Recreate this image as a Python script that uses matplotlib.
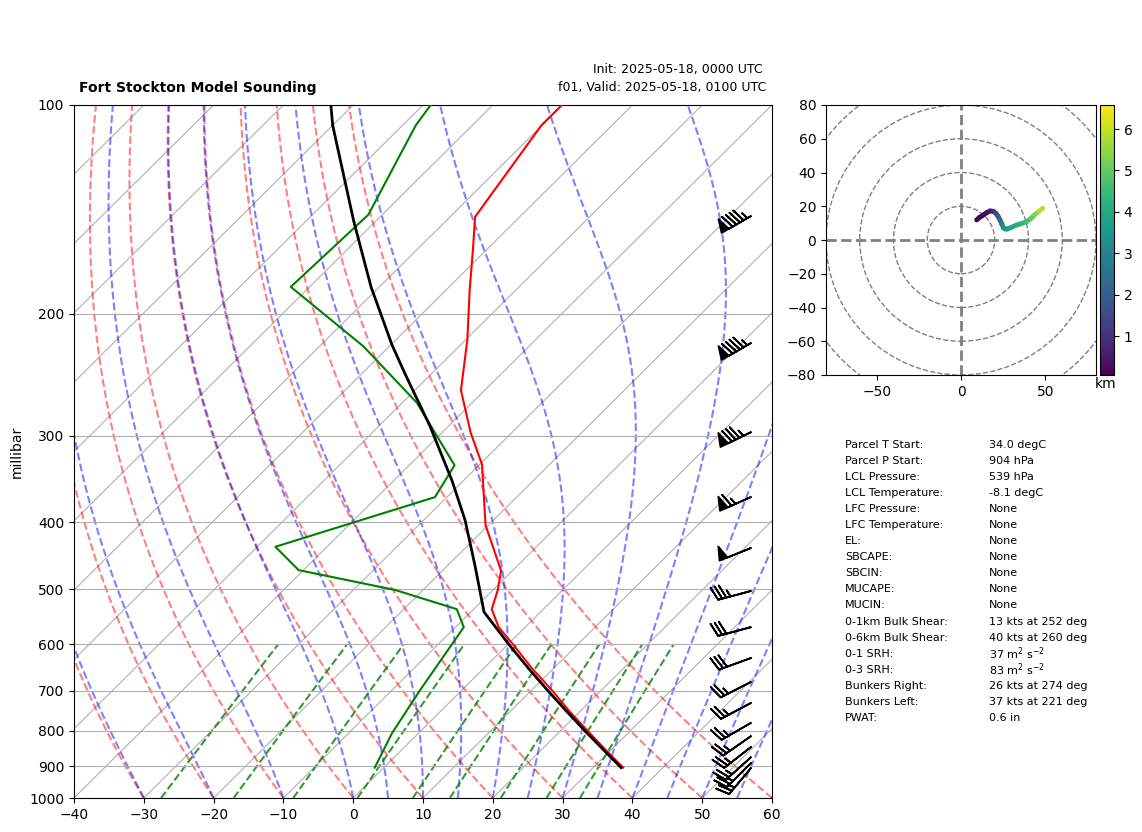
#! /usr/bin/env python3

import numpy as np
import matplotlib
matplotlib.use("Agg")
import matplotlib.pyplot as plt
import matplotlib.transforms as transforms
from matplotlib.collections import LineCollection

# sounding, values
temp_p = [904, 850, 800, 750, 698, 650, 600, 567, 534, 501, 470, 404, 330, 297, 258, 218, 185, 162, 145, 107, 100]
temp_c = [34.3, 29.0, 23.9, 18.5, 12.8, 6.9, 0.7, -3.8, -7.4, -9.3, -11.6, -20.4, -29.7, -35.9, -43.4, -49.8, -56.6, -61.9, -66.4, -70.1, -70.1]
dewp_p = [904, 806, 698, 567, 534, 501, 469, 434, 368, 331, 269, 223, 183, 144, 107, 100]
dewp_c = [-1.3, -3.8, -6.0, -8.8, -12.4, -24.0, -40.7, -47.4, -31.7, -33.5, -47.9, -63.7, -82.7, -82.0, -88.1, -88.9]
parcel_p = [904, 850, 800, 750, 700, 650, 600, 539, 461, 397, 348, 290, 245, 222, 183, 147, 124, 107, 100]
parcel_c = [34.0, 28.7, 23.5, 18.1, 12.4, 6.4, 0.1, -8.1, -16.2, -24.1, -31.7, -42.8, -53.6, -59.8, -71.2, -83.2, -92.2, -100.0, -103.2]

# wind barbs (knots)
barb_p = [144.6, 220.5, 296.5, 367.8, 435.7, 502.6, 566.8, 628, 680, 729, 779, 814, 844, 873, 890, 905]
barb_spd = [95, 95, 85, 65, 50, 35, 30, 30, 25, 25, 25, 25, 25, 25, 25, 25]
barb_ang = [30, 30, 26, 24, 22, 15, 15, 20, 27, 28, 30, 35, 38, 42, 45, 50]

# hodograph
hodo_u = [9.3, 11.0, 13.2, 15.2, 17.2, 19.2, 20.7, 22.0, 23.1, 24.2, 25.1, 26.0, 27.4, 30.0, 33.0, 36.0, 38.9, 41.5, 43.9, 46.2, 48.4]
hodo_v = [11.9, 13.4, 14.8, 16.2, 17.2, 17.0, 15.8, 14.0, 11.9, 9.5, 7.3, 6.6, 6.5, 7.6, 8.9, 9.8, 10.9, 12.8, 15.2, 17.0, 18.8]
hodo_z = [0.06, 0.12, 0.2, 0.3, 0.5, 0.9, 1.4, 1.9, 2.4, 2.9, 3.3, 3.5, 3.7, 3.95, 4.2, 4.4, 4.7, 5.0, 5.4, 5.9, 6.58]

# thermodynamic background lines (starting values at 1000 hPa)
dry_t0 = list(range(-40, 61, 10))
moist_t0 = [-40, -30, -20, -10, 0, 5, 10, 15, 20, 25, 30, 35, 40, 45, 50, 55, 60]
mix_w = [0.0004, 0.001, 0.002, 0.004, 0.007, 0.01, 0.016, 0.024, 0.032]

p_ticks = [100, 200, 300, 400, 500, 600, 700, 800, 900, 1000]

stat_names = ["Parcel T Start:", "Parcel P Start:", "LCL Pressure:", "LCL Temperature:",
              "LFC Pressure:", "LFC Temperature:", "EL:", "SBCAPE:", "SBCIN:", "MUCAPE:",
              "MUCIN:", "0-1km Bulk Shear:", "0-6km Bulk Shear:", "0-1 SRH:", "0-3 SRH:",
              "Bunkers Right:", "Bunkers Left:", "PWAT:"]
stat_vals = ["34.0 degC", "904 hPa", "539 hPa", "-8.1 degC", "None", "None", "None", "None",
             "None", "None", "None", "13 kts at 252 deg", "40 kts at 260 deg",
             r"37 m$^2$ s$^{-2}$", r"83 m$^2$ s$^{-2}$", "26 kts at 274 deg",
             "37 kts at 221 deg", "0.6 in"]


def sat_vp(t_c):
    return 6.112 * np.exp(17.67 * t_c / (t_c + 243.5))


def moist_line(t0, p):
    # integrate the saturated lapse rate upward from 1000 hPa
    t = t0 + 273.15
    out = [t]
    for i in range(1, len(p)):
        dlnp = np.log(p[i] / p[i - 1])
        es = sat_vp(t - 273.15)
        rs = 0.622 * es / (p[i - 1] - es)
        lv = 2.501e6
        dt = (287.04 * t + lv * rs) / (1005.7 + lv ** 2 * rs * 0.622 / (287.04 * t ** 2))
        t = t + dt * dlnp
        out.append(t)
    return np.array(out) - 273.15


W, H = 1142, 832
fig = plt.figure(figsize=(W / 100, H / 100), dpi=100)


def rect(x0, y0, x1, y1):
    return [x0 / W, 1 - y1 / H, (x1 - x0) / W, (y1 - y0) / H]


ax = fig.add_axes(rect(74, 105, 772, 798))
ax.set_yscale("log")
ax.set_xlim(-40, 60)
ax.set_ylim(1000, 100)
ax.set_yticks(p_ticks)
ax.set_yticklabels([str(p) for p in p_ticks])
ax.minorticks_off()
ax.set_xticks(range(-40, 61, 10))
ax.yaxis.grid(True)
ax.set_ylabel("millibar")
ax.yaxis.set_label_coords(-0.072, 0.5)

# skew applied in axes coordinates
skew = ax.transScale + ax.transLimits + transforms.Affine2D().skew_deg(45, 0) + ax.transAxes

p_line = np.geomspace(1000, 100, 300)

for t in range(-150, 61, 10):
    ax.plot([t, t], [1000, 100], color="#b0b0b0", lw=0.8, transform=skew, zorder=1)

for t0 in dry_t0:
    t = (t0 + 273.15) * (p_line / 1000) ** 0.2857 - 273.15
    ax.plot(t, p_line, color="r", ls="--", lw=1.5, alpha=0.5, transform=skew, zorder=1.5)

for t0 in moist_t0:
    ax.plot(moist_line(t0, p_line), p_line, color="b", ls="--", lw=1.5, alpha=0.5, transform=skew, zorder=1.5)

p_mix = np.linspace(1000, 600, 50)
for w in mix_w:
    e = np.log(p_mix * w / (0.622 + w) / 6.112)
    t = 243.5 * e / (17.67 - e)
    ax.plot(t, p_mix, color="g", ls="--", lw=1.5, alpha=0.8, transform=skew, zorder=1.5)

ax.plot(temp_c, temp_p, color="r", lw=1.5, transform=skew, zorder=3)
ax.plot(dewp_c, dewp_p, color="g", lw=1.5, transform=skew, zorder=3)
ax.plot(parcel_c, parcel_p, color="k", lw=2.0, transform=skew, zorder=3)

barb_u = np.array(barb_spd) * np.cos(np.radians(barb_ang))
barb_v = np.array(barb_spd) * np.sin(np.radians(barb_ang))
barb_tr = transforms.blended_transform_factory(ax.transAxes, ax.transData)
ax.barbs(np.full(len(barb_p), 0.97), barb_p, barb_u, barb_v, transform=barb_tr, length=7, linewidth=1.3, zorder=4)

fig.text(79 / W, 1 - 88 / H, "Fort Stockton Model Sounding", fontweight="bold", fontsize=10, va="center")
fig.text(763 / W, 1 - 70 / H, "Init: 2025-05-18, 0000 UTC", fontsize=9, ha="right", va="center")
fig.text(766 / W, 1 - 88 / H, "f01, Valid: 2025-05-18, 0100 UTC", fontsize=9, ha="right", va="center")

hax = fig.add_axes(rect(826, 105, 1096, 375))
hax.set_xlim(-80, 80)
hax.set_ylim(-80, 80)
hax.set_xticks([-50, 0, 50])
hax.set_yticks(range(-80, 81, 20))
for r in range(20, 121, 20):
    hax.add_patch(plt.Circle((0, 0), r, fill=False, ec="grey", ls="--", lw=1.0))
hax.axhline(0, color="grey", ls="--", lw=2)
hax.axvline(0, color="grey", ls="--", lw=2)

pts = np.column_stack([hodo_u, hodo_v])
segs = np.stack([pts[:-1], pts[1:]], axis=1)
lc = LineCollection(segs, cmap="viridis", lw=3.5, capstyle="round", zorder=3)
lc.set_array(np.array(hodo_z[:-1]))
lc.set_clim(0.06, 6.58)
hax.add_collection(lc)

cax = fig.add_axes(rect(1100, 105, 1114, 375))
cb = fig.colorbar(lc, cax=cax)
cb.set_ticks([1, 2, 3, 4, 5, 6])
fig.text(1106 / W, 1 - 384 / H, "km", fontsize=10, ha="center", va="center")

for i, (name, val) in enumerate(zip(stat_names, stat_vals)):
    y = 1 - (444.5 + i * 16.1) / H
    fig.text(845 / W, y, name, fontsize=8, va="center")
    fig.text(989 / W, y, val, fontsize=8, va="center")

fig.savefig("out.png", dpi=100)
